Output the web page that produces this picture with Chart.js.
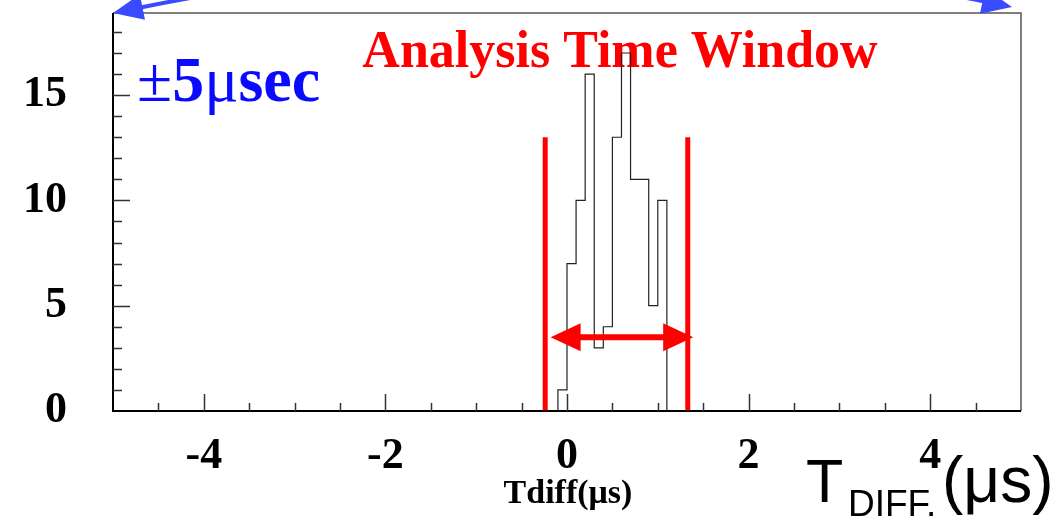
<!DOCTYPE html>
<html>
<head>
<meta charset="utf-8">
<script src="https://cdn.jsdelivr.net/npm/chart.js@4.4.1/dist/chart.umd.min.js"></script>
<style>
  html, body { margin: 0; padding: 0; background: #fff; }
</style>
</head>
<body>
<canvas id="myChart" width="1059" height="518"></canvas>
<script>
// tick labels
const xTicks = [-4, -2, 0, 2, 4];
const yTicks = [0, 5, 10, 15];
// histogram: low edge of each filled bin and its count (bins are 0.1 us wide)
const binLow = [-0.1, 0.0, 0.1, 0.2, 0.3, 0.4, 0.5, 0.6, 0.7, 0.8, 0.9, 1.0];
const counts = [1, 7, 10, 16, 3, 4, 13, 17, 11, 11, 5, 10];
const binWidth = 0.1;
const xRange = [-5, 5];
const yMax = 18.9;
// analysis window markers
const windowEdges = [-0.24, 1.33];
const windowTop = 13;
const arrowSpan = [-0.18, 1.39];
const arrowY = 3.5;

const SERIF = '"Liberation Serif", "Times New Roman", serif';
const SANS = '"Liberation Sans", Arial, sans-serif';

// step outline of the histogram, zero outside the filled bins
var histPoints = [{ x: xRange[0], y: 0 }];
binLow.forEach(function (b, i) { histPoints.push({ x: b, y: counts[i] }); });
histPoints.push({ x: binLow[binLow.length - 1] + binWidth, y: 0 });
histPoints.push({ x: xRange[1], y: 0 });

function arrowHead(ctx, tx, ty, dx, dy, len, half) {
  var bx = tx - dx * len, by = ty - dy * len;
  ctx.beginPath();
  ctx.moveTo(tx, ty);
  ctx.lineTo(bx - dy * half, by + dx * half);
  ctx.lineTo(bx + dy * half, by - dx * half);
  ctx.closePath();
  ctx.fill();
}

const textPlugin = {
  id: 'textPlugin',
  beforeDatasetsDraw(chart) {
    const ctx = chart.ctx;
    ctx.save();
    ctx.textBaseline = 'alphabetic';
    // red title
    ctx.fillStyle = '#ff0000';
    ctx.font = 'bold 52px ' + SERIF;
    ctx.textAlign = 'center';
    ctx.fillText('Analysis Time Window', 620, 67);

    // blue +-5usec
    ctx.textAlign = 'left';
    ctx.fillStyle = '#0a0aff';
    var x = 137;
    var parts = [['\u00b1', 'normal'], ['5', 'bold'], ['\u03bc', 'normal'], ['sec', 'bold']];
    parts.forEach(function (p) {
      ctx.font = p[1] + ' 64px ' + SERIF;
      ctx.fillText(p[0], x, 101);
      x += ctx.measureText(p[0]).width;
    });

    // axis titles
    ctx.fillStyle = '#000';
    ctx.font = 'bold 34px ' + SERIF;
    ctx.textAlign = 'center';
    ctx.fillText('Tdiff(\u03bcs)', 568, 503);

    ctx.textAlign = 'left';
    ctx.font = '61px ' + SANS;
    ctx.fillText('T', 806, 502);
    ctx.font = '37px ' + SANS;
    ctx.fillText('DIFF.', 848, 516);
    ctx.font = '64px ' + SANS;
    ctx.fillText('(\u03bcs)', 942, 502);
    ctx.restore();
  },
  afterDatasetsDraw(chart) {
    const ctx = chart.ctx;
    const a = chart.chartArea;
    const xs = chart.scales.x, ys = chart.scales.y;
    ctx.save();

    // frame
    ctx.strokeStyle = '#555';
    ctx.lineWidth = 1.5;
    ctx.beginPath();
    ctx.moveTo(a.left, a.top);
    ctx.lineTo(a.right, a.top);
    ctx.lineTo(a.right, a.bottom);
    ctx.stroke();

    ctx.strokeStyle = '#000';
    ctx.lineWidth = 2;
    ctx.beginPath();
    ctx.moveTo(a.left, a.top);
    ctx.lineTo(a.left, a.bottom);
    ctx.lineTo(a.right, a.bottom);
    ctx.stroke();

    // inward ticks
    ctx.lineWidth = 1.5;
    ctx.strokeStyle = '#333';
    ctx.beginPath();
    for (var v = 1; v < yMax; v += 1) {
      var py = Math.round(ys.getPixelForValue(v)) + 0.5;
      var len = (v % 5 === 0) ? 17 : 9;
      ctx.moveTo(a.left, py);
      ctx.lineTo(a.left + len, py);
    }
    for (var t = xRange[0] + 0.5; t < xRange[1]; t += 0.5) {
      var px = Math.round(xs.getPixelForValue(t)) + 0.5;
      var l2 = (Math.abs(t % 2) < 1e-6) ? 17 : 8;
      ctx.moveTo(px, a.bottom);
      ctx.lineTo(px, a.bottom - l2);
    }
    ctx.stroke();

    // red double arrow
    ctx.strokeStyle = '#ff0000';
    ctx.fillStyle = '#ff0000';
    var ax0 = xs.getPixelForValue(arrowSpan[0]);
    var ax1 = xs.getPixelForValue(arrowSpan[1]);
    var ay = ys.getPixelForValue(arrowY);
    ctx.lineWidth = 6;
    ctx.beginPath();
    ctx.moveTo(ax0 + 20, ay);
    ctx.lineTo(ax1 - 20, ay);
    ctx.stroke();
    arrowHead(ctx, ax0, ay, -1, 0, 30, 14);
    arrowHead(ctx, ax1, ay, 1, 0, 30, 14);

    // blue arrow across the top
    var lx = xs.getPixelForValue(xRange[0]), ly = a.top;
    var rx = xs.getPixelForValue(xRange[1]) - 9, ry = a.top - 6;
    var cx = 577, cy = -82;
    ctx.strokeStyle = '#3a4aff';
    ctx.fillStyle = '#3a4aff';
    ctx.lineWidth = 4;
    ctx.beginPath();
    ctx.moveTo(lx + 20, ly - 4);
    ctx.quadraticCurveTo(cx, cy, rx - 20, ry - 4);
    ctx.stroke();
    var d0x = lx - cx, d0y = ly - cy, n0 = Math.hypot(d0x, d0y);
    arrowHead(ctx, lx, ly, d0x / n0, d0y / n0, 30, 13);
    var d1x = rx - cx, d1y = ry - cy, n1 = Math.hypot(d1x, d1y);
    arrowHead(ctx, rx, ry, d1x / n1, d1y / n1, 30, 13);

    ctx.restore();
  }
};

var ctx = document.getElementById('myChart');
var myChart = new Chart(ctx, {
  type: 'line',
  data: {
    datasets: [{
      label: 'Tdiff',
      data: histPoints,
      stepped: 'before',
      borderColor: '#222',
      borderWidth: 1.2,
      pointRadius: 0,
      fill: false,
      order: 2
    }, {
      label: 'window low',
      data: [{ x: windowEdges[0], y: 0 }, { x: windowEdges[0], y: windowTop }],
      borderColor: '#ff0000',
      borderWidth: 5,
      pointRadius: 0,
      borderCapStyle: 'butt',
      order: 1
    }, {
      label: 'window high',
      data: [{ x: windowEdges[1], y: 0 }, { x: windowEdges[1], y: windowTop }],
      borderColor: '#ff0000',
      borderWidth: 5,
      pointRadius: 0,
      borderCapStyle: 'butt',
      order: 1
    }]
  },
  options: {
    responsive: false,
    animation: false,
    devicePixelRatio: 1,
    layout: { autoPadding: false, padding: { top: 13, right: 38, left: 0, bottom: 0 } },
    plugins: { legend: { display: false }, tooltip: { enabled: false }, title: { display: false } },
    scales: {
      x: {
        type: 'linear',
        min: xRange[0],
        max: xRange[1],
        afterBuildTicks: function (scale) { scale.ticks = xTicks.map(function (v) { return { value: v }; }); },
        afterFit: function (scale) { scale.height = 107; scale.paddingLeft = 0; scale.paddingRight = 0; },
        grid: { display: false, drawTicks: false },
        border: { display: false },
        ticks: {
          autoSkip: false,
          maxRotation: 0,
          padding: 19,
          color: '#000',
          font: { family: SERIF, size: 44, weight: 'bold' }
        }
      },
      y: {
        type: 'linear',
        min: 0,
        max: yMax,
        afterBuildTicks: function (scale) { scale.ticks = yTicks.map(function (v) { return { value: v }; }); },
        afterFit: function (scale) { scale.width = 113; scale.paddingTop = 0; scale.paddingBottom = 0; },
        grid: { display: false, drawTicks: false },
        border: { display: false },
        ticks: {
          padding: 46,
          color: '#000',
          font: { family: SERIF, size: 44, weight: 'bold' }
        }
      }
    }
  },
  plugins: [textPlugin]
});
</script>
</body>
</html>
